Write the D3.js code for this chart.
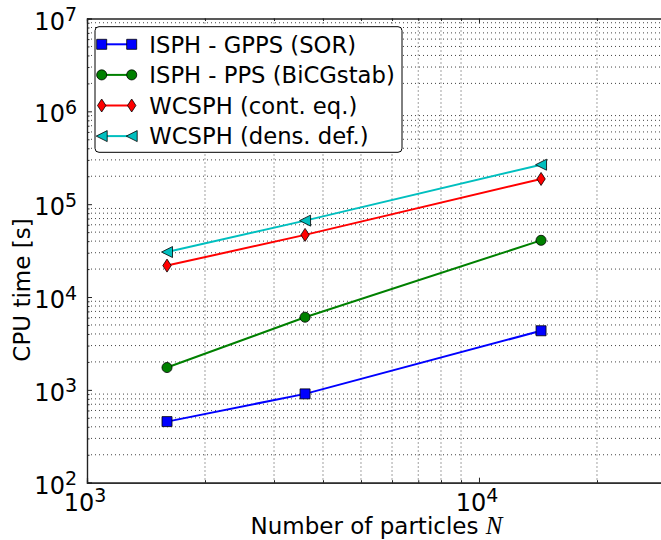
<!DOCTYPE html>
<html lang="en">
<head>
  <meta charset="UTF-8">
  <title>CPU time vs number of particles</title>
  <script src="https://d3js.org/d3.v7.min.js"></script>
  <style>
    body { margin: 0; background: #fff; }
    svg text { font-family: "DejaVu Sans", sans-serif; fill: #000; }
  </style>
</head>
<body>
  <script>
    // particle counts and CPU times
    const particles = [1600, 3600, 14400];
    const isphGpps = [455, 905, 4330];
    const isphPps = [1740, 6060, 40800];
    const wcsphCont = [21800, 46700, 187000];
    const wcsphDens = [30500, 66500, 266000];

    const seriesNames = ["ISPH - GPPS (SOR)", "ISPH - PPS (BiCGstab)", "WCSPH (cont. eq.)", "WCSPH (dens. def.)"];
    const seriesValues = [isphGpps, isphPps, wcsphCont, wcsphDens];
    const seriesColors = ["#0000ff", "#008000", "#ff0000", "#00bfbf"];
    const seriesMarkers = ["square", "circle", "diamond", "triLeft"];

    const xDomain = [1e3, 3e4];
    const yDomain = [1e2, 1e7];

    const width = 661, height = 540;
    const plotL = 87, plotT = 18.5, plotR = 666, plotB = 482.7;

    const svg = d3.select("body").append("svg")
      .attr("width", width)
      .attr("height", height)
      .attr("viewBox", [0, 0, width, height]);

    const x = d3.scaleLog().domain(xDomain).range([plotL, plotR]);
    const y = d3.scaleLog().domain(yDomain).range([plotB, plotT]);

    const isMajor = v => Math.abs(Math.log10(v) - Math.round(Math.log10(v))) < 1e-9;
    const xMajor = x.ticks().filter(isMajor);
    const xMinor = x.ticks().filter(v => !isMajor(v) && x(v) < plotR - 1);
    const yMajor = y.ticks().filter(isMajor);
    const yMinor = y.ticks().filter(v => !isMajor(v));

    // dotted grid on minor ticks only
    const grid = svg.append("g")
      .attr("stroke", "#444")
      .attr("stroke-width", 1)
      .attr("stroke-dasharray", "1,3");
    grid.selectAll("line.gx").data(xMinor).join("line")
      .attr("x1", d => x(d)).attr("x2", d => x(d))
      .attr("y1", plotT).attr("y2", plotB);
    grid.selectAll("line.gy").data(yMinor).join("line")
      .attr("x1", plotL).attr("x2", plotR)
      .attr("y1", d => y(d)).attr("y2", d => y(d));

    // axes: ticks pointing inwards, on all four sides
    function addAxis(axisFn, scale, values, size, transform) {
      svg.append("g")
        .attr("transform", transform)
        .call(axisFn(scale).tickValues(values).tickSize(size).tickFormat(() => ""))
        .call(g => g.selectAll("line").attr("stroke", "#222"))
        .call(g => g.select(".domain").attr("stroke", "#222").attr("stroke-width", 1.2));
    }
    addAxis(d3.axisBottom, x, xMajor, -5, `translate(0,${plotB})`);
    addAxis(d3.axisBottom, x, xMinor, -2.5, `translate(0,${plotB})`);
    addAxis(d3.axisTop, x, xMajor, -5, `translate(0,${plotT})`);
    addAxis(d3.axisTop, x, xMinor, -2.5, `translate(0,${plotT})`);
    addAxis(d3.axisLeft, y, yMajor, -5, `translate(${plotL},0)`);
    addAxis(d3.axisLeft, y, yMinor, -2.5, `translate(${plotL},0)`);
    addAxis(d3.axisRight, y, yMajor, -5, `translate(${plotR},0)`);

    // tick labels as 10^k
    function powLabel(sel) {
      sel.append("tspan").attr("font-size", 24).text("10");
      sel.append("tspan").attr("font-size", 19).attr("dy", -8.5)
        .text(d => Math.round(Math.log10(d)));
    }
    svg.append("g").selectAll("text").data(xMajor).join("text")
      .attr("x", d => x(d) - 2)
      .attr("y", plotB + 28)
      .attr("text-anchor", "middle")
      .call(powLabel);
    svg.append("g").selectAll("text").data(yMajor).join("text")
      .attr("x", plotL - 10)
      .attr("y", d => y(d) + 11)
      .attr("text-anchor", "end")
      .call(powLabel);

    // axis titles
    const xl = svg.append("text")
      .attr("x", (plotL + plotR) / 2)
      .attr("y", 534)
      .attr("text-anchor", "middle")
      .attr("font-size", 23);
    xl.append("tspan").text("Number of particles ");
    xl.append("tspan")
      .attr("font-family", "Liberation Serif, serif")
      .attr("font-style", "italic")
      .attr("font-size", 25)
      .text("N");

    svg.append("text")
      .attr("transform", `translate(30,290) rotate(-90)`)
      .attr("text-anchor", "middle")
      .attr("font-size", 23)
      .text("CPU time [s]");

    // markers
    const markerPath = {
      square: d3.symbol(d3.symbolSquare, 100)(),
      circle: d3.symbol(d3.symbolCircle, 80)(),
      diamond: "M0,-6.5L4.2,0L0,6.5L-4.2,0Z",
      triLeft: "M-5.5,0L5.5,-5.5L5.5,5.5Z"
    };

    const line = d3.line().x(d => x(d[0])).y(d => y(d[1]));

    seriesValues.forEach((vals, i) => {
      const pts = particles.map((n, k) => [n, vals[k]]);
      svg.append("path")
        .datum(pts)
        .attr("fill", "none")
        .attr("stroke", seriesColors[i])
        .attr("stroke-width", 2)
        .attr("d", line);
      svg.append("g").selectAll("path").data(pts).join("path")
        .attr("transform", d => `translate(${x(d[0])},${y(d[1])})`)
        .attr("d", markerPath[seriesMarkers[i]])
        .attr("fill", seriesColors[i])
        .attr("stroke", "#000")
        .attr("stroke-width", 0.8);
    });

    // legend
    const lg = svg.append("g");
    lg.append("rect")
      .attr("x", 95).attr("y", 26.7)
      .attr("width", 307).attr("height", 125.6)
      .attr("rx", 4)
      .attr("fill", "#fff")
      .attr("stroke", "#000")
      .attr("stroke-width", 1);
    seriesNames.forEach((name, i) => {
      const cy = 44.3 + i * 30.6;
      lg.append("line")
        .attr("x1", 101.7).attr("x2", 131.7)
        .attr("y1", cy).attr("y2", cy)
        .attr("stroke", seriesColors[i])
        .attr("stroke-width", 2);
      [101.7, 131.7].forEach(mx => {
        lg.append("path")
          .attr("transform", `translate(${mx},${cy})`)
          .attr("d", markerPath[seriesMarkers[i]])
          .attr("fill", seriesColors[i])
          .attr("stroke", "#000")
          .attr("stroke-width", 0.8);
      });
      lg.append("text")
        .attr("x", 149.3)
        .attr("y", cy + 8.2)
        .attr("font-size", 22.7)
        .text(name);
    });
  </script>
</body>
</html>
